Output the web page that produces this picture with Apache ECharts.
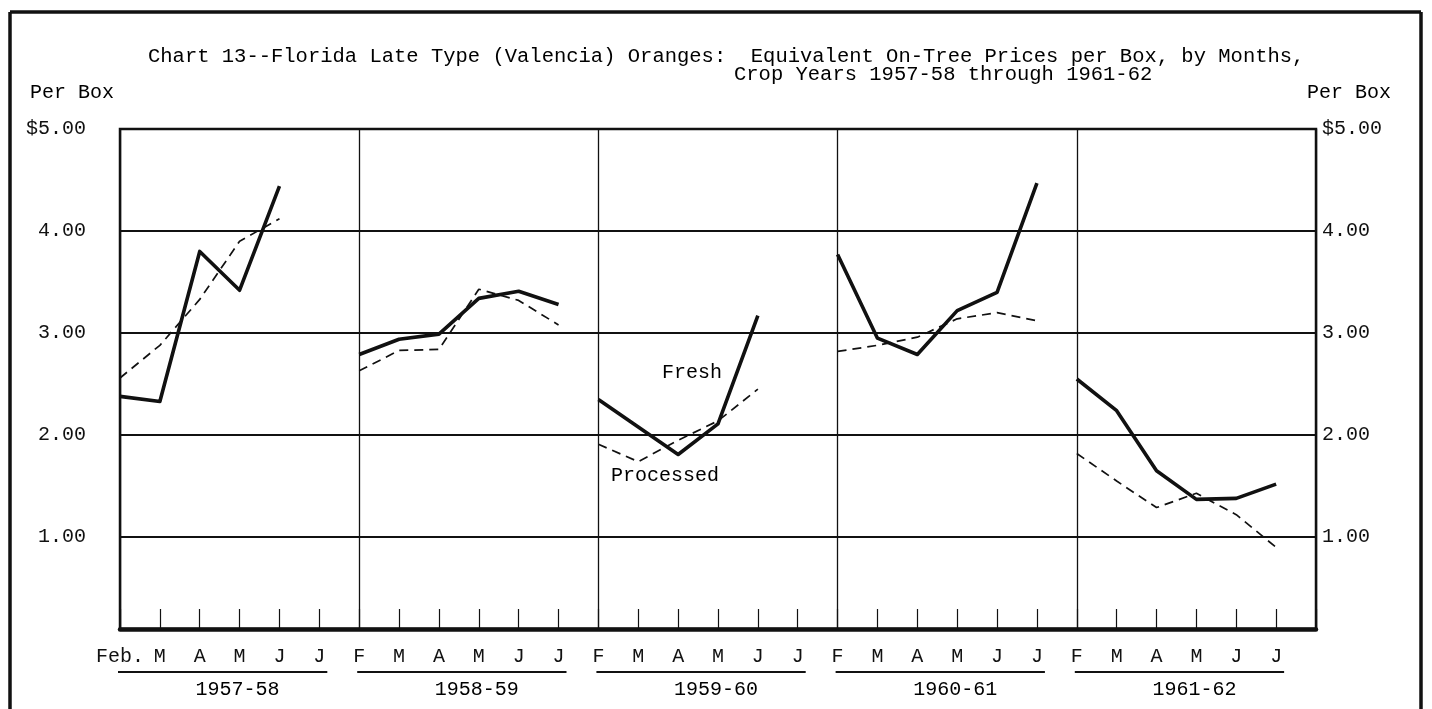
<!DOCTYPE html>
<html>
<head>
<meta charset="utf-8">
<title>Chart 13 - Florida Valencia Oranges</title>
<script src="https://cdn.jsdelivr.net/npm/echarts@6/dist/echarts.min.js"></script>
<style>
  html, body { margin: 0; padding: 0; background: #fff; }
  #main { width: 1432px; height: 709px; }
</style>
</head>
<body>
<div id="main"></div>
<script>
// crop years, one panel each, six months Feb..July per panel
const years = ['1957-58', '1958-59', '1959-60', '1960-61', '1961-62'];
const monthLabels = [
  'Feb.', 'M', 'A', 'M', 'J', 'J',
  'F', 'M', 'A', 'M', 'J', 'J',
  'F', 'M', 'A', 'M', 'J', 'J',
  'F', 'M', 'A', 'M', 'J', 'J',
  'F', 'M', 'A', 'M', 'J', 'J'
];
// dollars per box, null = not reported
const fresh = [
  [2.38, 2.33, 3.80, 3.42, 4.44, null],
  [2.79, 2.94, 2.99, 3.34, 3.41, 3.28],
  [2.35, 2.08, 1.81, 2.11, 3.17, null],
  [3.77, 2.95, 2.79, 3.22, 3.40, 4.47],
  [2.55, 2.24, 1.65, 1.37, 1.38, 1.52]
];
const processed = [
  [2.56, 2.88, 3.33, 3.90, 4.12, null],
  [2.63, 2.83, 2.84, 3.43, 3.32, 3.08],
  [1.91, 1.74, 1.95, 2.14, 2.45, null],
  [2.82, 2.88, 2.96, 3.14, 3.20, 3.12],
  [1.82, 1.55, 1.29, 1.43, 1.22, 0.90]
];
const priceTicks = { 1: '1.00', 2: '2.00', 3: '3.00', 4: '4.00', 5: '$5.00' };

const FONT = 'Liberation Mono';
const INK = '#111';

let chart = echarts.init(document.getElementById('main'));

function toPoints(row, k) {
  let pts = [];
  row.forEach(function (v, m) {
    if (v != null) {
      pts.push([6 * k + m, v]);
    }
  });
  return pts;
}

let series = [];
years.forEach(function (yr, k) {
  series.push({
    type: 'line',
    name: 'Fresh ' + yr,
    data: toPoints(fresh[k], k),
    symbol: 'none',
    animation: false,
    lineStyle: { color: INK, width: 3.6, join: 'round' }
  });
  series.push({
    type: 'line',
    name: 'Processed ' + yr,
    data: toPoints(processed[k], k),
    symbol: 'none',
    animation: false,
    lineStyle: { color: INK, width: 1.7, type: [9, 6] }
  });
});

function priceLabel(v) {
  return priceTicks[Math.round(v * 100) / 100] || '';
}

let textStyle = { fontFamily: FONT, fontSize: 20, color: INK };

let option = {
  animation: false,
  backgroundColor: '#fff',
  grid: {
    left: 120,
    right: 116,
    top: 129,
    bottom: 80,
    show: true,
    borderColor: INK,
    borderWidth: 2.5
  },
  xAxis: [
    {
      type: 'value',
      min: 0,
      max: 30,
      interval: 1,
      axisLine: { lineStyle: { color: INK, width: 4.5 } },
      axisTick: { inside: true, length: 20, lineStyle: { color: INK, width: 1.2 } },
      axisLabel: Object.assign({
        margin: 18,
        formatter: function (v) { return monthLabels[v] || ''; }
      }, textStyle),
      splitLine: { show: false }
    },
    { // panel dividers
      type: 'value',
      min: 0,
      max: 30,
      interval: 6,
      position: 'bottom',
      axisLine: { show: false },
      axisTick: { show: false },
      axisLabel: { show: false },
      splitLine: { show: true, lineStyle: { color: INK, width: 1.3 } }
    }
  ],
  yAxis: [
    {
      type: 'value',
      position: 'left',
      min: 0.1,
      max: 5,
      splitNumber: 5,
      axisLine: { show: true, lineStyle: { color: INK, width: 2 } },
      axisTick: { show: false },
      axisLabel: Object.assign({ margin: 34, formatter: priceLabel }, textStyle),
      splitLine: { show: true, lineStyle: { color: INK, width: 1.8 } }
    },
    {
      type: 'value',
      position: 'right',
      min: 0.1,
      max: 5,
      splitNumber: 5,
      axisLine: { show: true, lineStyle: { color: INK, width: 2 } },
      axisTick: { show: false },
      axisLabel: Object.assign({ margin: 6, formatter: priceLabel }, textStyle),
      splitLine: { show: false }
    }
  ],
  series: series
};
chart.setOption(option);

// texts and year underlines, placed through the axes
let graphics = [
  // page frame
  { type: 'line', shape: { x1: 10, y1: 12, x2: 10, y2: 709 }, style: { stroke: INK, lineWidth: 3.5 } },
  { type: 'line', shape: { x1: 10, y1: 12, x2: 1421, y2: 12 }, style: { stroke: INK, lineWidth: 3.5 } },
  { type: 'line', shape: { x1: 1421, y1: 12, x2: 1421, y2: 709 }, style: { stroke: INK, lineWidth: 3.5 } },
  {
    type: 'text', left: 148, top: 46,
    style: Object.assign({ text: 'Chart 13--Florida Late Type (Valencia) Oranges:  Equivalent On-Tree Prices per Box, by Months,' }, textStyle, { fontSize: 20.5 })
  },
  {
    type: 'text', left: 734, top: 64,
    style: Object.assign({ text: 'Crop Years 1957-58 through 1961-62' }, textStyle, { fontSize: 20.5 })
  },
  { type: 'text', left: 30, top: 83, style: Object.assign({ text: 'Per Box' }, textStyle) },
  { type: 'text', left: 1307, top: 83, style: Object.assign({ text: 'Per Box' }, textStyle) },
  { type: 'text', left: 662, top: 363, style: Object.assign({ text: 'Fresh' }, textStyle) },
  { type: 'text', left: 611, top: 466, style: Object.assign({ text: 'Processed' }, textStyle) }
];

years.forEach(function (yr, k) {
  let x0 = chart.convertToPixel({ xAxisIndex: 0 }, 6 * k - 0.05);
  let x1 = chart.convertToPixel({ xAxisIndex: 0 }, 6 * k + 5.2);
  let xc = chart.convertToPixel({ xAxisIndex: 0 }, 6 * k + 2.95);
  graphics.push({
    type: 'line',
    shape: { x1: x0, y1: 672, x2: x1, y2: 672 },
    style: { stroke: INK, lineWidth: 1.8 }
  });
  graphics.push({
    type: 'text',
    x: xc,
    y: 690,
    style: Object.assign({ text: yr, align: 'center', verticalAlign: 'middle' }, textStyle)
  });
});

chart.setOption({ graphic: graphics });
</script>
</body>
</html>
